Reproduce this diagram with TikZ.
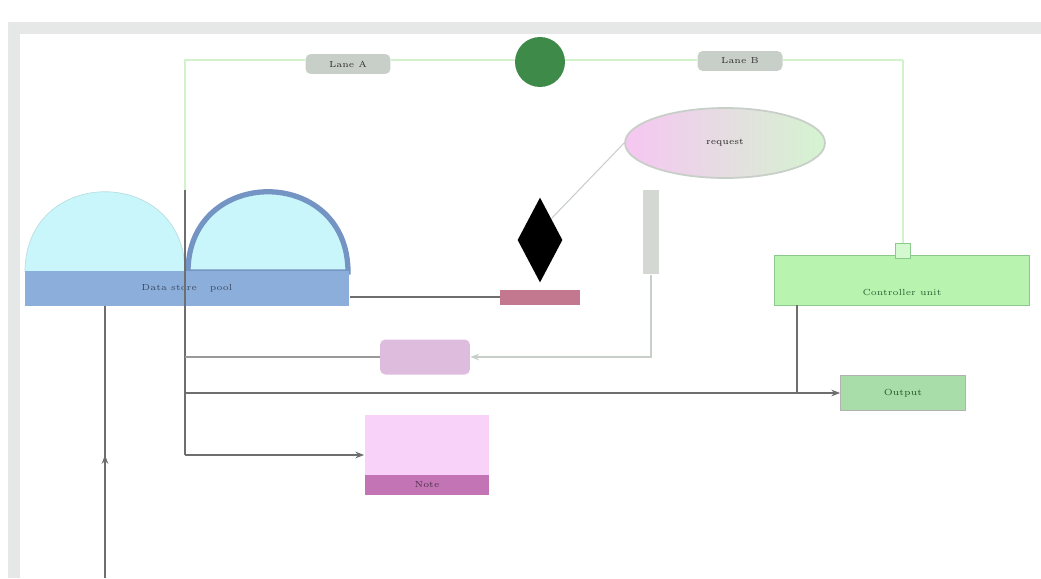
\documentclass[tikz,border=0pt]{standalone}
\usepackage{amsmath}
\usetikzlibrary{shapes.geometric,arrows.meta}

\definecolor{framegray}{HTML}{E6E8E8}
\definecolor{lanegreen}{HTML}{D2F2CC}
\definecolor{startgreen}{HTML}{3E8A48}
\definecolor{taggray}{HTML}{C8CEC8}
\definecolor{wiregray}{HTML}{6E6E6E}
\definecolor{ucpink}{HTML}{F6C6F2}
\definecolor{ucgreen}{HTML}{D4F4D0}
\definecolor{syncred}{HTML}{C47890}
\definecolor{procmauve}{HTML}{DEBCDE}
\definecolor{ctrlgreen}{HTML}{B8F4B0}
\definecolor{ctrlline}{HTML}{8CC88C}
\definecolor{outgreen}{HTML}{A8DCA8}
\definecolor{notepink}{HTML}{F9D2F9}
\definecolor{noteband}{HTML}{C274B4}
\definecolor{storeblue}{HTML}{8CAEDA}
\definecolor{domecyan}{HTML}{C8F6FA}
\definecolor{domeline}{HTML}{7494C4}

\tikzset{
    wire/.style = {draw=wiregray, line width=0.9pt},
    softwire/.style = {draw=taggray, line width=0.9pt},
    lane/.style = {draw=lanegreen, line width=0.8pt},
    tag/.style = {fill=taggray, rounded corners=3pt, minimum width=1.7cm, minimum height=0.4cm,
                  font={\tiny}, text=gray!40!black},
}

\begin{document}
\begin{tikzpicture}[x=0.02cm, y=-0.02cm, >={Stealth[length=5pt]}]
            \useasboundingbox (0,0) rectangle (1041,578);
            % outer window frame
            \fill[framegray] (8,22) rectangle (1041,34);
            \fill[framegray] (8,22) rectangle (20,578);

            % storage shape (two domes on a base)
            \filldraw[fill=domecyan, draw=domecyan!80!gray] (25,272) .. controls (25,165) and (185,165) .. (185,272) -- cycle;
            \filldraw[fill=domecyan, draw=domeline, line width=3pt] (188,272) .. controls (188,165) and (348,165) .. (348,272) -- cycle;
            \node[fill=storeblue, minimum width=6.5cm, minimum height=0.7cm, inner sep=0pt,
                  font={\tiny}, text=domeline!50!black] (store) at (187,288) {Data store \quad pool};

            % swimlane frame
            \coordinate (nw) at (185,60);
            \coordinate (ne) at (903,60);
            \coordinate (lanefoot) at (185,190);
            \node[tag] (tagA) at (348,64) {Lane A};
            \node[circle, fill=startgreen, minimum size=1cm, inner sep=0pt] (start) at (540,62) {};
            \node[tag] (tagB) at (740,61) {Lane B};
            \draw[lane] (lanefoot) -- (nw) -- (tagA.west |- nw);
            \draw[lane] (tagA.east |- nw) -- (start.west |- nw);
            \draw[lane] (start.east |- nw) -- (tagB.west |- nw);
            \draw[lane] (tagB.east |- nw) -- (ne);

            \node[ellipse, draw=taggray, line width=1pt, left color=ucpink, right color=ucgreen,
                  minimum width=4cm, minimum height=1.4cm, font={\tiny}, text=gray!30!black] (uc) at (725,143) {request};
            \node[diamond, fill=black, minimum width=0.9cm, minimum height=1.7cm, inner sep=0pt] (dec) at (540,240) {};
            \node[fill=syncred, minimum width=1.6cm, minimum height=0.3cm, inner sep=0pt] (sync) at (540,297) {};
            \node[fill=taggray!80, minimum width=0.32cm, minimum height=1.7cm, inner sep=0pt] (hold) at (651,232) {};
            \node[fill=procmauve, rounded corners=3pt, minimum width=1.8cm, minimum height=0.7cm] (proc) at (425,357) {};

            \node[fill=ctrlgreen, draw=ctrlline, minimum width=5.1cm, minimum height=1cm, inner sep=2pt,
                  text depth=0pt, font={\tiny}, text=startgreen!70!black] (ctrl) at (902,280) {\raisebox{-9pt}{Controller unit}};
            \node[draw=ctrlline, fill=ctrlgreen!60, minimum width=0.3cm, minimum height=0.3cm, inner sep=0pt] (port) at (903,251) {};
            \node[fill=outgreen, draw=gray!60, minimum width=2.5cm, minimum height=0.7cm,
                  font={\tiny}, text=startgreen!60!black] (out) at (903,393) {Output};

            \node[fill=notepink, minimum width=2.5cm, minimum height=1.6cm] (note) at (427,455) {};
            \node[fill=noteband, minimum width=2.5cm, minimum height=0.4cm, anchor=south, inner sep=0pt,
                  font={\tiny}, text=noteband!40!black] (noteband) at (note.south) {Note};

            % connectors
            \draw[lane] (ne) -- (port);
            \draw[softwire, line width=0.6pt] (dec.north east) -- (uc.west);
            \draw[wire] (sync.west -| store.east) -- (sync.west);
            \draw[softwire, ->] (hold.south) |- (proc.east);
            \coordinate (tb) at (185,455);
            \draw[wire] (lanefoot) -- (tb);
            \draw[wire, draw=wiregray!70] (proc.west -| tb) -- (proc.west);
            \draw[wire, ->] (out.west -| tb) -- (out.west);
            \draw[wire] (ctrl.south -| 797,0) -- (797,393);
            \draw[wire, ->] (tb) -- (note.west);
            \coordinate (drop) at (105,578);
            \draw[wire] (store.south -| drop) -- (drop);
            \draw[wire, ->] (105,480) -- (105,455);
\end{tikzpicture}
\end{document}
